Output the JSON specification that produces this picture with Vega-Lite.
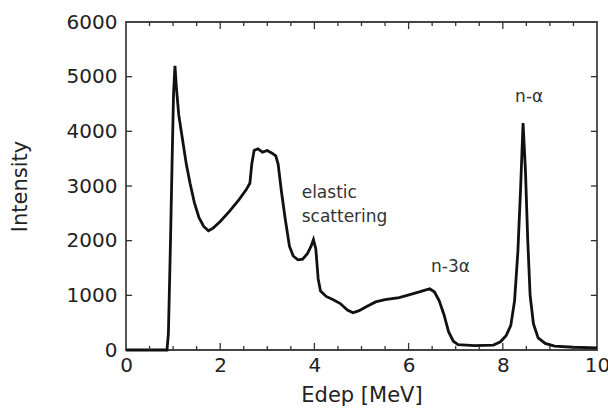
{
  "$schema": "https://vega.github.io/schema/vega-lite/v6.json",
  "width": 471,
  "height": 328,
  "autosize": "none",
  "padding": {"left": 126, "top": 22, "right": 11, "bottom": 59},
  "background": "white",
  "config": {
    "view": {"stroke": "#444", "strokeWidth": 1.8},
    "font": "DejaVu Sans",
    "axis": {
      "labelFont": "DejaVu Sans",
      "labelFontSize": 20,
      "labelColor": "#222",
      "titleFont": "DejaVu Sans",
      "titleFontSize": 21,
      "titleFontWeight": "normal",
      "titleColor": "#222"
    }
  },
  "datasets": {
    "spectrum": [
      {"E": 0, "I": 0}, {"E": 0.5, "I": 0}, {"E": 0.87, "I": 0}, {"E": 0.9, "I": 300},
      {"E": 0.94, "I": 1800}, {"E": 0.98, "I": 3500}, {"E": 1.01, "I": 4700}, {"E": 1.04, "I": 5200},
      {"E": 1.07, "I": 4800}, {"E": 1.12, "I": 4300}, {"E": 1.2, "I": 3850}, {"E": 1.28, "I": 3400},
      {"E": 1.36, "I": 3050}, {"E": 1.45, "I": 2700}, {"E": 1.55, "I": 2420}, {"E": 1.65, "I": 2260},
      {"E": 1.75, "I": 2180}, {"E": 1.85, "I": 2230}, {"E": 2.0, "I": 2350}, {"E": 2.2, "I": 2540},
      {"E": 2.4, "I": 2750}, {"E": 2.55, "I": 2930}, {"E": 2.63, "I": 3050}, {"E": 2.67, "I": 3400},
      {"E": 2.72, "I": 3650}, {"E": 2.8, "I": 3680}, {"E": 2.9, "I": 3620}, {"E": 3.0, "I": 3650},
      {"E": 3.1, "I": 3600}, {"E": 3.18, "I": 3550}, {"E": 3.23, "I": 3400}, {"E": 3.3, "I": 2900},
      {"E": 3.38, "I": 2400}, {"E": 3.47, "I": 1900}, {"E": 3.55, "I": 1720}, {"E": 3.65, "I": 1650},
      {"E": 3.75, "I": 1660}, {"E": 3.85, "I": 1760}, {"E": 3.93, "I": 1900}, {"E": 3.98, "I": 2020},
      {"E": 4.03, "I": 1850}, {"E": 4.08, "I": 1300}, {"E": 4.13, "I": 1080}, {"E": 4.25, "I": 980},
      {"E": 4.4, "I": 920}, {"E": 4.55, "I": 850}, {"E": 4.7, "I": 730}, {"E": 4.82, "I": 680},
      {"E": 4.95, "I": 720}, {"E": 5.1, "I": 790}, {"E": 5.3, "I": 880}, {"E": 5.5, "I": 920},
      {"E": 5.8, "I": 960}, {"E": 6.1, "I": 1030}, {"E": 6.3, "I": 1080}, {"E": 6.45, "I": 1120},
      {"E": 6.55, "I": 1060}, {"E": 6.65, "I": 900}, {"E": 6.75, "I": 650}, {"E": 6.85, "I": 330},
      {"E": 6.95, "I": 160}, {"E": 7.05, "I": 100}, {"E": 7.4, "I": 80}, {"E": 7.8, "I": 90},
      {"E": 7.95, "I": 150}, {"E": 8.07, "I": 260}, {"E": 8.17, "I": 450}, {"E": 8.25, "I": 900},
      {"E": 8.32, "I": 1800}, {"E": 8.38, "I": 3000}, {"E": 8.43, "I": 4150}, {"E": 8.48, "I": 3300},
      {"E": 8.53, "I": 2000}, {"E": 8.58, "I": 1000}, {"E": 8.65, "I": 480}, {"E": 8.75, "I": 220},
      {"E": 8.9, "I": 120}, {"E": 9.1, "I": 70}, {"E": 9.5, "I": 50}, {"E": 10, "I": 40}
    ],
    "leftLabels": [
      {"E": 3.73, "I": 2870, "label": "elastic"},
      {"E": 3.73, "I": 2430, "label": "scattering"}
    ],
    "centerLabels": [
      {"E": 6.89, "I": 1520, "label": "n-3α"},
      {"E": 8.56, "I": 4630, "label": "n-α"}
    ],
    "xMinor": [
      {"E": 0.5}, {"E": 1}, {"E": 1.5}, {"E": 2.5}, {"E": 3}, {"E": 3.5}, {"E": 4.5}, {"E": 5},
      {"E": 5.5}, {"E": 6.5}, {"E": 7}, {"E": 7.5}, {"E": 8.5}, {"E": 9}, {"E": 9.5}
    ],
    "xMajor": [{"E": 2}, {"E": 4}, {"E": 6}, {"E": 8}],
    "yMajor": [{"I": 1000}, {"I": 2000}, {"I": 3000}, {"I": 4000}, {"I": 5000}]
  },
  "layer": [
    {
      "data": {"name": "spectrum"},
      "mark": {"type": "line", "color": "#111", "strokeWidth": 2.8, "interpolate": "linear"},
      "encoding": {
        "x": {
          "field": "E", "type": "quantitative",
          "scale": {"domain": [0, 10], "nice": false, "zero": false},
          "axis": {
            "orient": "bottom", "title": "Edep [MeV]", "grid": false, "domain": false, "ticks": false,
            "values": [0, 2, 4, 6, 8, 10], "format": "d",
            "labelPadding": 5, "titlePadding": 9, "labelFlush": false
          }
        },
        "y": {
          "field": "I", "type": "quantitative",
          "scale": {"domain": [0, 6000], "nice": false},
          "axis": {
            "orient": "left", "title": "Intensity", "grid": false, "domain": false, "ticks": false,
            "format": "d", "values": [0, 1000, 2000, 3000, 4000, 5000, 6000],
            "labelPadding": 9, "titlePadding": 36, "labelFlush": false
          }
        }
      }
    },
    {
      "data": {"name": "xMinor"},
      "mark": {"type": "rule", "color": "#333", "strokeWidth": 1.3},
      "encoding": {
        "x": {"field": "E", "type": "quantitative", "axis": null},
        "y": {"datum": 0, "type": "quantitative", "axis": null},
        "y2": {"datum": 75}
      }
    },
    {
      "data": {"name": "xMinor"},
      "mark": {"type": "rule", "color": "#333", "strokeWidth": 1.3},
      "encoding": {
        "x": {"field": "E", "type": "quantitative", "axis": null},
        "y": {"datum": 6000, "type": "quantitative", "axis": null},
        "y2": {"datum": 5925}
      }
    },
    {
      "data": {"name": "xMajor"},
      "mark": {"type": "rule", "color": "#333", "strokeWidth": 1.3},
      "encoding": {
        "x": {"field": "E", "type": "quantitative", "axis": null},
        "y": {"datum": 0, "type": "quantitative", "axis": null},
        "y2": {"datum": 130}
      }
    },
    {
      "data": {"name": "xMajor"},
      "mark": {"type": "rule", "color": "#333", "strokeWidth": 1.3},
      "encoding": {
        "x": {"field": "E", "type": "quantitative", "axis": null},
        "y": {"datum": 6000, "type": "quantitative", "axis": null},
        "y2": {"datum": 5870}
      }
    },
    {
      "data": {"name": "yMajor"},
      "mark": {"type": "rule", "color": "#333", "strokeWidth": 1.3},
      "encoding": {
        "y": {"field": "I", "type": "quantitative", "axis": null},
        "x": {"datum": 0, "type": "quantitative", "axis": null},
        "x2": {"datum": 0.13}
      }
    },
    {
      "data": {"name": "yMajor"},
      "mark": {"type": "rule", "color": "#333", "strokeWidth": 1.3},
      "encoding": {
        "y": {"field": "I", "type": "quantitative", "axis": null},
        "x": {"datum": 10, "type": "quantitative", "axis": null},
        "x2": {"datum": 9.87}
      }
    },
    {
      "data": {"name": "leftLabels"},
      "mark": {"type": "text", "font": "DejaVu Sans", "fontSize": 17, "color": "#333", "baseline": "middle", "align": "left"},
      "encoding": {
        "x": {"field": "E", "type": "quantitative", "axis": null},
        "y": {"field": "I", "type": "quantitative", "axis": null},
        "text": {"field": "label", "type": "nominal"}
      }
    },
    {
      "data": {"name": "centerLabels"},
      "mark": {"type": "text", "font": "DejaVu Sans", "fontSize": 17, "color": "#333", "baseline": "middle", "align": "center"},
      "encoding": {
        "x": {"field": "E", "type": "quantitative", "axis": null},
        "y": {"field": "I", "type": "quantitative", "axis": null},
        "text": {"field": "label", "type": "nominal"}
      }
    }
  ],
  "resolve": {"axis": {"x": "independent", "y": "independent"}}
}
